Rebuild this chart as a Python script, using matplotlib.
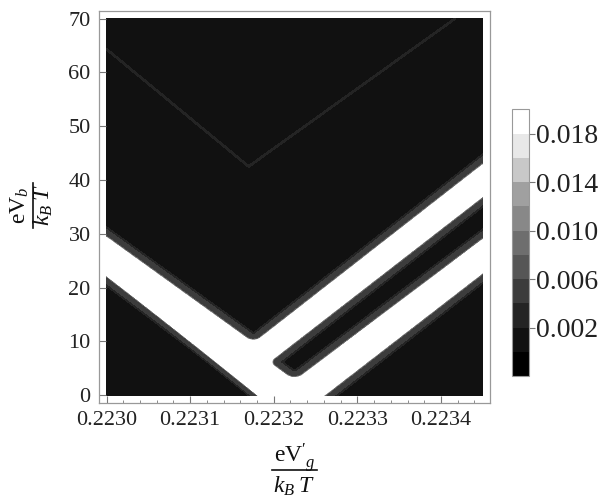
import numpy as np
import matplotlib
matplotlib.use("Agg")
import matplotlib.pyplot as plt
from matplotlib.lines import Line2D

plt.rcParams["font.family"] = ["Liberation Serif", "DejaVu Serif"]
plt.rcParams["mathtext.fontset"] = "custom"
plt.rcParams["mathtext.rm"] = "Liberation Serif"
plt.rcParams["mathtext.it"] = "Liberation Serif:italic"

# colour scale
levels = [-0.002, 0.000, 0.002, 0.004, 0.006, 0.008, 0.010, 0.012, 0.014, 0.016, 0.018, 0.020]
grey_steps = [0, 17, 36, 60, 86, 110, 136, 160, 200, 232, 255]
cbar_ticks = [0.002, 0.006, 0.010, 0.014, 0.018]

# plotted range
vg_range = [0.22300, 0.22345]
vb_range = [0.0, 70.0]
x_ticks = [0.2230, 0.2231, 0.2232, 0.2233, 0.2234]
y_ticks = [0, 10, 20, 30, 40, 50, 60, 70]

# edges of the dark (blockaded) regions, white/grey boundary
v_left_edge = [(0.22300, 29.3), (0.223176, 9.6)]
v_right_edge = [(0.223176, 9.6), (0.22345, 42.8)]
lower_left_edge = [(0.2231483, 4.95), (0.22300, 22.3)]
lower_left_foot = [(0.223188, -0.3), (0.2231483, 4.95)]
stripe_upper_edge = [(0.22345, 37.0), (0.223195, 6.3)]
stripe_lower_edge = [(0.223225, 2.6), (0.22345, 28.9)]
stripe_end = [(0.2231829, 7.36), (0.2232279, 2.25)]
lower_right_edge = [(0.22345, 22.8), (0.223260, 0.0)]
# faint contour inside the upper region
inner_v_x = [0.22300, 0.223170, 0.223417]
inner_v_y = [64.3, 42.5, 70.0]

# pixel scale of the reference, used to keep edge widths even
px_x = 83.6 / 0.0001
px_y = 5.38

vg = np.linspace(vg_range[0], vg_range[1], 700)
vb = np.linspace(vb_range[0], vb_range[1], 700)
VG, VB = np.meshgrid(vg, vb)
X = VG * px_x
Y = VB * px_y


def side(edge):
    (x0, y0), (x1, y1) = edge
    dx, dy = (x1 - x0) * px_x, (y1 - y0) * px_y
    n = np.hypot(dx, dy)
    return (dx * (Y - y0 * px_y) - dy * (X - x0 * px_x)) / n


def round_and(d1, d2, r):
    ux, uy = r - d1, r - d2
    s = np.hypot(np.maximum(ux, 0), np.maximum(uy, 0)) + np.minimum(np.maximum(ux, uy), 0) - r
    return -s


d_upper = round_and(side(v_left_edge), side(v_right_edge), 9.0)
d_lower_left = round_and(side(lower_left_edge), side(lower_left_foot), 12.0)
d_lower_right = side(lower_right_edge)
d_stripe = round_and(round_and(side(stripe_upper_edge), side(stripe_end), 7.0),
                     side(stripe_lower_edge), 10.0)

depth = np.maximum.reduce([d_upper, d_lower_left, d_lower_right, d_stripe])

# distance to the faint inner contour
ix = np.array(inner_v_x) * px_x
iy = np.array(inner_v_y) * px_y
dist_v = np.full(X.shape, 1e9)
for k in range(len(ix) - 1):
    px, py = ix[k + 1] - ix[k], iy[k + 1] - iy[k]
    t = np.clip(((X - ix[k]) * px + (Y - iy[k]) * py) / (px * px + py * py), 0, 1)
    dist_v = np.minimum(dist_v, np.hypot(X - ix[k] - t * px, Y - iy[k] - t * py))

field = (0.001 + 0.0042 / (1 + np.exp((depth - 7.5) / 1.0))
         + 0.02 / (1 + np.exp(depth / 0.4))
         + 0.0013 * np.exp(-(dist_v / 1.6) ** 2))
field = np.clip(field, -0.0019, 0.0199)

colors = [(g / 255, g / 255, g / 255) for g in grey_steps]

fig = plt.figure(figsize=(6.13, 5.00), dpi=100)
ax = fig.add_axes([99 / 613, 1 - 402.7 / 500, (490.3 - 99) / 613, (402.7 - 11) / 500])
cs = ax.contourf(VG, VB, field, levels=levels, colors=colors, antialiased=False)

pad_x = 7.5 / px_x
pad_y = 7.5 / px_y
ax.set_xlim(vg_range[0] - pad_x, vg_range[1] + pad_x)
ax.set_ylim(vb_range[0] - pad_y, vb_range[1] + pad_y)

ax.set_xticks(x_ticks)
ax.set_xticklabels(["%.4f" % t for t in x_ticks])
ax.set_xticks(np.arange(0.22300, 0.223451, 0.00002), minor=True)
ax.set_yticks(y_ticks)
ax.set_yticklabels([str(t) for t in y_ticks])
ax.tick_params(which="both", direction="in", top=False, right=False, color="#777777",
               labelsize=16, labelcolor="#222222")
ax.tick_params(which="major", length=5, width=0.8, pad=6)
ax.tick_params(which="minor", length=2.5, width=0.6)
ax.tick_params(axis="y", which="minor", left=False)
for sp in ax.spines.values():
    sp.set_color("#999999")
    sp.set_linewidth(0.9)

# axis labels written as stacked fractions
lab = dict(fontsize=17, color="#111111")
fig.text(294.6 / 613, 1 - 463 / 500, r"$\mathrm{eV}^{\prime}_{\;g}$", ha="center", va="baseline", **lab)
fig.text(294.6 / 613, 1 - 493 / 500, r"$k_B\;T$", ha="center", va="baseline", **lab)
fig.add_artist(Line2D([272 / 613, 317 / 613], [1 - 470 / 500, 1 - 470 / 500], color="#111111", lw=1.2))

fig.text(26 / 613, 1 - 205 / 500, r"$\mathrm{eV}_b$", ha="center", va="baseline",
         rotation=90, rotation_mode="anchor", **lab)
fig.text(50 / 613, 1 - 205 / 500, r"$k_B\;T$", ha="center", va="baseline",
         rotation=90, rotation_mode="anchor", **lab)
fig.add_artist(Line2D([32.5 / 613, 32.5 / 613], [1 - 183 / 500, 1 - 228 / 500], color="#111111", lw=1.2))

cax = fig.add_axes([512.3 / 613, 1 - 376 / 500, 17 / 613, 266.7 / 500])
cb = fig.colorbar(cs, cax=cax, ticks=cbar_ticks)
cb.ax.set_yticklabels(["%.3f" % t for t in cbar_ticks])
cb.outline.set_edgecolor("#999999")
cb.outline.set_linewidth(0.8)
cb.ax.tick_params(direction="out", length=4, width=0.8, color="#777777",
                  labelsize=20, labelcolor="#222222", pad=1)

fig.savefig("out.png", dpi=100)
